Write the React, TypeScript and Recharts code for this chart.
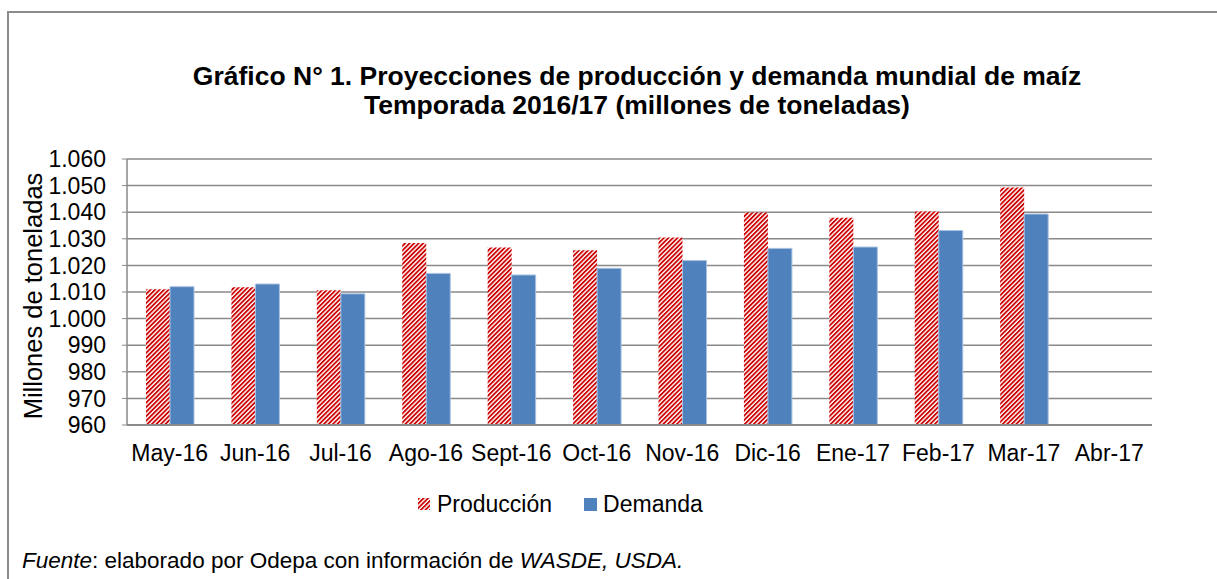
import { Bar, BarChart, CartesianGrid, Label, XAxis, YAxis } from "recharts";

const months = ["May-16", "Jun-16", "Jul-16", "Ago-16", "Sept-16", "Oct-16", "Nov-16", "Dic-16", "Ene-17", "Feb-17", "Mar-17", "Abr-17"];
const produccion = [1011.0, 1011.8, 1010.7, 1028.4, 1026.7, 1025.7, 1030.5, 1039.9, 1037.9, 1040.3, 1049.3, null];
const demanda = [1012.0, 1013.0, 1009.3, 1017.0, 1016.4, 1018.9, 1021.8, 1026.4, 1026.9, 1033.1, 1039.3, null];
const yTicks = [960, 970, 980, 990, 1000, 1010, 1020, 1030, 1040, 1050, 1060];

const data = months.map((m, i) => ({ month: m, produccion: produccion[i], demanda: demanda[i] }));

const FONT = "'Liberation Sans', Arial, sans-serif";
const RED = "#cc0000";
const BLUE = "#4f81bd";
const GRID = "#8a8a8a";

const fmt = (v: number) => (v >= 1000 ? `${Math.floor(v / 1000)}.${String(v % 1000).padStart(3, "0")}` : String(v));

function Stripes({ id }: { id: string }) {
  return (
    <pattern id={id} patternUnits="userSpaceOnUse" width="3.2" height="3.2" patternTransform="rotate(45)">
      <rect x="0" y="0" width="3.2" height="3.2" fill="#ffffff" />
      <rect x="0" y="0" width="1.8" height="3.2" fill={RED} />
    </pattern>
  );
}

export default function App() {
  return (
    <div style={{ position: "fixed", left: 0, top: 0, width: 1217, height: 579, background: "#fff", overflow: "hidden", fontFamily: FONT }}>
      <div style={{ position: "absolute", left: 7, top: 11, width: 1240, height: 620, border: "2px solid #8c8c8c" }} />

      <div style={{ position: "absolute", left: 0, width: 1274, top: 62, textAlign: "center", fontWeight: "bold", fontSize: 26.5, lineHeight: "29px", color: "#000", whiteSpace: "nowrap" }}>
        Gráfico N° 1. Proyecciones de producción y demanda mundial de maíz
        <br />
        Temporada 2016/17 (millones de toneladas)
      </div>

      <div style={{ position: "absolute", left: 0, top: 0 }}>
        <BarChart width={1217} height={579} data={data} margin={{ top: 159, right: 65, bottom: 124, left: 0 }} barGap={0}>
          <defs>
            <Stripes id="prod-stripes" />
          </defs>
          <CartesianGrid vertical={false} stroke={GRID} strokeWidth={1.5} />
          <XAxis
            dataKey="month"
            height={30}
            interval={0}
            axisLine={{ stroke: GRID, strokeWidth: 2 }}
            tickLine={false}
            tickSize={0}
            tickMargin={20}
            tick={{ fill: "#000", fontFamily: FONT, fontSize: 23 }}
          />
          <YAxis
            width={127}
            domain={[960, 1060]}
            ticks={yTicks}
            interval={0}
            tickFormatter={fmt}
            axisLine={{ stroke: GRID, strokeWidth: 1.5 }}
            tickLine={{ stroke: GRID }}
            tickSize={5}
            tickMargin={16}
            tick={{ fill: "#000", fontFamily: FONT, fontSize: 23 }}
          >
            <Label
              content={() => (
                <text
                  x={33}
                  y={296}
                  transform="rotate(-90 33 296)"
                  textAnchor="middle"
                  dominantBaseline="central"
                  fill="#000"
                  fontFamily={FONT}
                  fontSize={25.5}
                >
                  Millones de toneladas
                </text>
              )}
            />
          </YAxis>
          <Bar dataKey="produccion" name="Producción" fill="url(#prod-stripes)" barSize={24} isAnimationActive={false} />
          <Bar dataKey="demanda" name="Demanda" fill={BLUE} stroke="#a9c1e0" strokeWidth={1} barSize={24} isAnimationActive={false} />
        </BarChart>
      </div>

      <div style={{ position: "absolute", left: 418, top: 491, height: 26, display: "flex", alignItems: "center", fontSize: 23, color: "#000", lineHeight: "26px" }}>
        <svg width={12} height={12} style={{ marginRight: 7 }}>
          <defs>
            <Stripes id="legend-stripes" />
          </defs>
          <rect width={12} height={12} fill="url(#legend-stripes)" />
        </svg>
        <span>Producción</span>
        <svg width={13} height={13} style={{ marginLeft: 32, marginRight: 6 }}>
          <rect width={13} height={13} fill={BLUE} />
        </svg>
        <span>Demanda</span>
      </div>

      <div style={{ position: "absolute", left: 22, top: 549, fontSize: 22.5, color: "#000", lineHeight: "24px", whiteSpace: "nowrap" }}>
        <i>Fuente</i>: elaborado por Odepa con información de <i>WASDE, USDA.</i>
      </div>
    </div>
  );
}
